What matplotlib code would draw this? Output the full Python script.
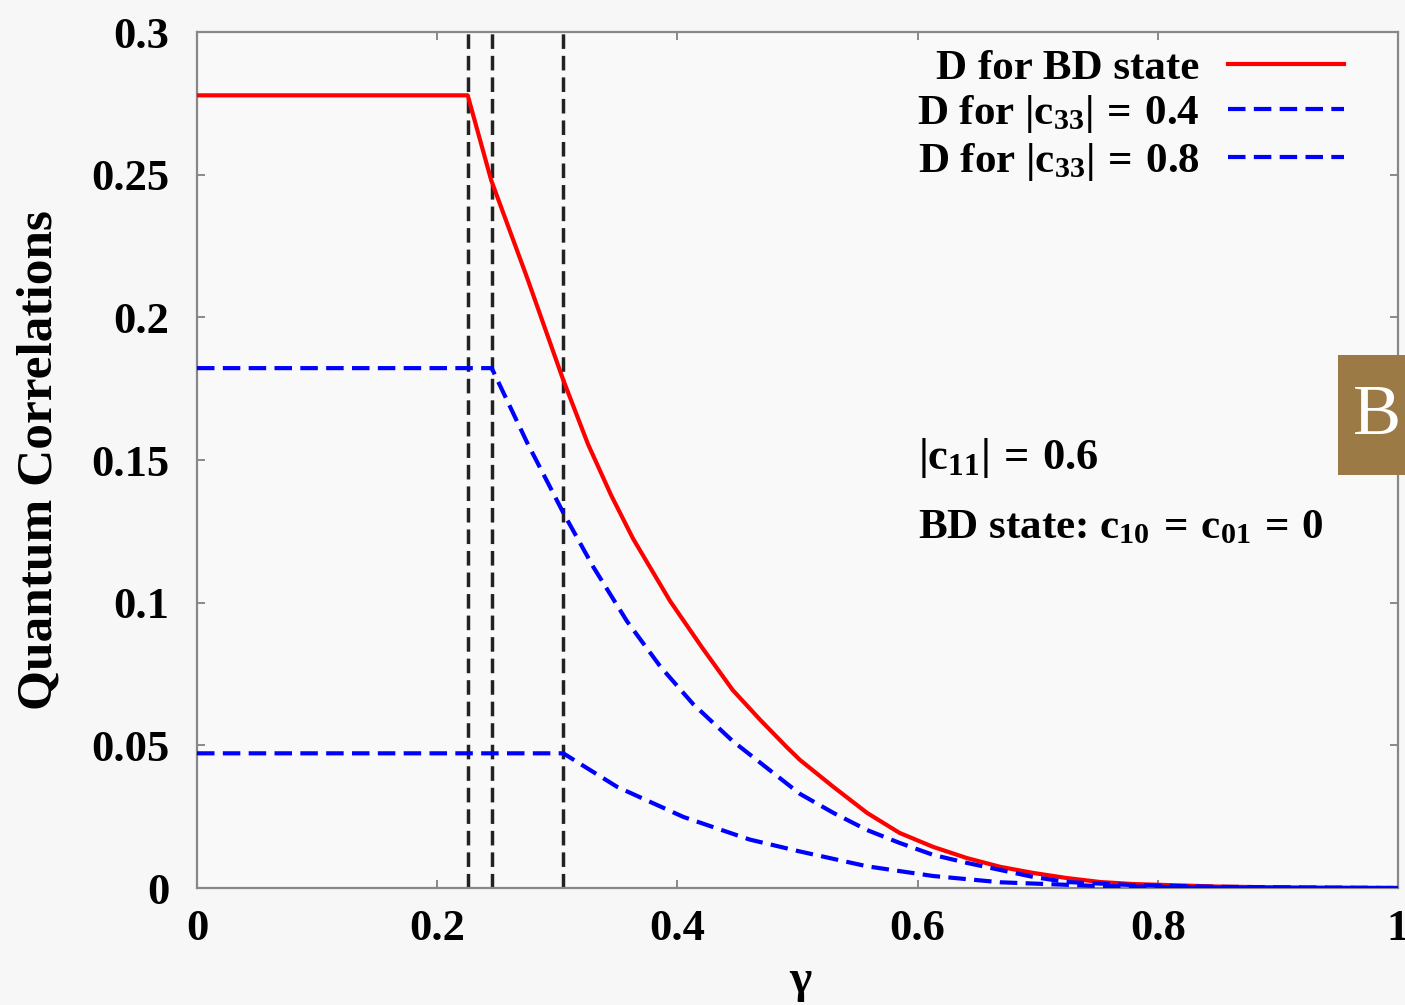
import matplotlib
matplotlib.use("Agg")
import matplotlib.pyplot as plt
from matplotlib.patches import Rectangle

plt.rcParams['font.family'] = ['Liberation Serif', 'DejaVu Serif']
plt.rcParams['font.weight'] = 'bold'
plt.rcParams['axes.labelweight'] = 'bold'
plt.rcParams['mathtext.fontset'] = 'custom'
plt.rcParams['mathtext.rm'] = 'Liberation Serif:bold'
plt.rcParams['mathtext.it'] = 'Liberation Serif:bold'
plt.rcParams['mathtext.bf'] = 'Liberation Serif:bold'

# discord D(gamma) for the Bell-diagonal state
gamma_bd = [0.0, 0.2254, 0.245, 0.2745, 0.305, 0.3256, 0.345, 0.363, 0.394, 0.421, 0.446,
            0.469, 0.491, 0.502, 0.530, 0.558, 0.585, 0.613, 0.641, 0.669, 0.696,
            0.724, 0.752, 0.779, 0.85, 0.92, 1.0]
d_bd = [0.2778, 0.2778, 0.248, 0.2143, 0.178, 0.1555, 0.1375, 0.1225, 0.1005, 0.0840, 0.0694,
        0.0589, 0.0494, 0.0449, 0.0354, 0.0263, 0.0193, 0.0144, 0.0105, 0.0074, 0.0053,
        0.0035, 0.0021, 0.0014, 0.0005, 0.0001, 0.0]

# |c33| = 0.4
gamma_c04 = [0.0, 0.2454, 0.275, 0.305, 0.330, 0.358, 0.386, 0.413, 0.446, 0.502,
             0.530, 0.558, 0.585, 0.613, 0.641, 0.669, 0.696, 0.724, 0.78, 0.85, 1.0]
d_c04 = [0.1822, 0.1822, 0.156, 0.1315, 0.1125, 0.0935, 0.0775, 0.0645, 0.0515, 0.0330,
         0.0263, 0.0203, 0.0158, 0.0116, 0.0088, 0.0063, 0.0039, 0.0021, 0.0010, 0.0004, 0.0]

# |c33| = 0.8
gamma_c08 = [0.0, 0.305, 0.350, 0.405, 0.460, 0.502, 0.558, 0.613, 0.669, 0.75, 0.85, 1.0]
d_c08 = [0.0472, 0.0472, 0.0354, 0.0249, 0.0170, 0.0128, 0.0076, 0.0042, 0.0020, 0.0007,
         0.0001, 0.0]

# sudden-change points
gamma_sc = [0.2254, 0.2454, 0.305]

x_ticks = [0, 0.2, 0.4, 0.6, 0.8, 1]
x_ticklabels = ['0', '0.2', '0.4', '0.6', '0.8', '1']
y_ticks = [0, 0.05, 0.1, 0.15, 0.2, 0.25, 0.3]
y_ticklabels = ['0', '0.05', '0.1', '0.15', '0.2', '0.25', '0.3']

fig = plt.figure(figsize=(14.05, 10.05), dpi=100, facecolor='#f7f7f7')
ax = fig.add_axes([197 / 1405, 1 - 888 / 1005, 1201 / 1405, 856 / 1005])
ax.set_facecolor('#f9f9f9')

for g in gamma_sc:
    ax.axvline(g, color='#222222', lw=2.5, linestyle=(0, (4.2, 2.0)), zorder=1)

ax.plot(gamma_bd, d_bd, color='#ff0000', lw=3.0, label='D for BD state', zorder=3)
ax.plot(gamma_c04, d_c04, color='#0000ff', lw=3.0, linestyle=(0, (4.2, 2.0)),
        label=r'D for $\mathrm{|c_{33}|\,=\,0.4}$', zorder=4)
ax.plot(gamma_c08, d_c08, color='#0000ff', lw=3.0, linestyle=(0, (4.2, 2.0)),
        label=r'D for $\mathrm{|c_{33}|\,=\,0.8}$', zorder=4)

ax.set_xlim(0, 1)
ax.set_ylim(0, 0.3)
ax.set_xticks(x_ticks)
ax.set_xticklabels(x_ticklabels)
ax.set_yticks(y_ticks)
ax.set_yticklabels(y_ticklabels)
ax.tick_params(direction='in', length=6, width=1.2, color='#777777',
               top=True, right=True, labelsize=32)
ax.tick_params(axis='x', pad=15)
ax.tick_params(axis='y', pad=20)
for s in ax.spines.values():
    s.set_color('#888888')
    s.set_linewidth(1.6)

ax.set_ylabel('Quantum Correlations', fontsize=37)
ax.yaxis.set_label_coords(-0.112, 0.5)
ax.set_xlabel('γ', fontsize=34)
ax.xaxis.set_label_coords(0.502, -0.084)

leg = ax.legend(loc='upper right', bbox_to_anchor=(0.955, 0.980), frameon=False,
                markerfirst=False, fontsize=31, handlelength=2.7, handletextpad=0.65,
                labelspacing=0.12, borderpad=0, borderaxespad=0)

ax.text(0.600, 0.502, r'$\mathrm{|c_{11}|\,=\,0.6}$', transform=ax.transAxes,
        fontsize=32, ha='left', va='center')
ax.text(0.600, 0.4206, r'BD state: $\mathrm{c_{10}\,=\,c_{01}\,=\,0}$', transform=ax.transAxes,
        fontsize=31, ha='left', va='center')

# panel badge
fig.add_artist(Rectangle((1338 / 1405, 1 - 475 / 1005), 67 / 1405, 120 / 1005,
                         transform=fig.transFigure, facecolor='#9b7a46', edgecolor='none',
                         zorder=10))
fig.text(1377 / 1405, 1 - 416 / 1005, 'B', color='white', fontsize=52, fontweight='normal',
         ha='center', va='center', zorder=11)

fig.savefig('out.png', dpi=100, facecolor=fig.get_facecolor())
